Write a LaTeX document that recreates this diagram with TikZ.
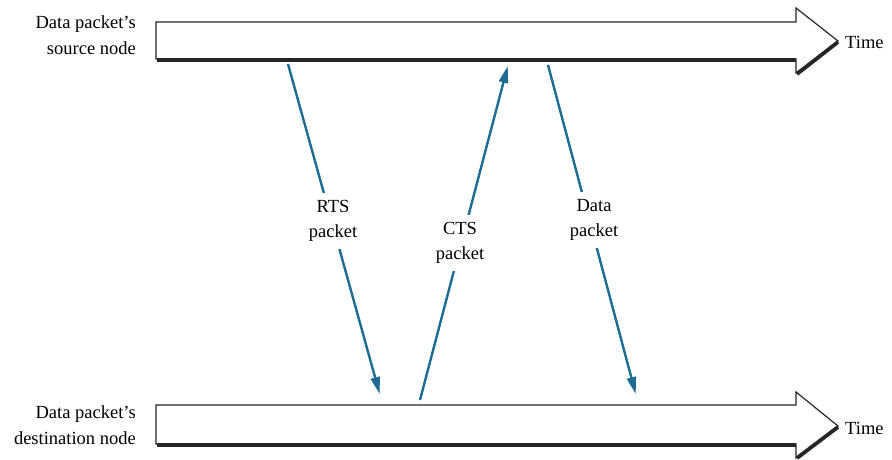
\documentclass[tikz,border=0pt]{standalone}
\usepackage{fontspec}
\setmainfont{Liberation Serif}
\usetikzlibrary{arrows.meta}
\definecolor{msgblue}{RGB}{28,108,148}
\tikzset{
  lbl/.style={font=\fontsize{18.5}{25.5}\selectfont, inner sep=0pt},
  pktlbl/.style={lbl, fill=white, align=center, inner xsep=3pt, inner ysep=7pt},
  msg/.style={draw=msgblue, line width=2.4pt,
    -{Triangle[length=17pt,width=9pt]}, shorten >=1pt},
  timebody/.style={draw=black!85, line width=1.2pt, fill=white, line join=miter},
  timeshadow/.style={draw=black!85, line width=3.8pt}
}
\begin{document}
\begin{tikzpicture}[x=1pt,y=-1pt]
\useasboundingbox (0,0) rectangle (892,459);

% source node time line
\draw[timebody] (156,22) -- (796,22) -- (796,8) -- (838,41) -- (796,73)
  -- (796,59) -- (156,59) -- cycle;
\draw[timeshadow] (157,60) -- (796,60);
\draw[timeshadow] (838,42) -- (797,74);

% destination node time line
\draw[timebody] (156,405) -- (796,405) -- (796,392) -- (838,426) -- (796,458)
  -- (796,444) -- (156,444) -- cycle;
\draw[timeshadow] (157,445) -- (796,445);
\draw[timeshadow] (838,427) -- (797,458);

% side labels
\node[lbl, anchor=east, align=right] (srcL) at (136,35) {Data packet's\\source node};
\node[lbl, anchor=east, align=right] (dstL) at (136,425) {Data packet's\\destination node};
\node[lbl, anchor=west] (timeT) at (845,42) {Time};
\node[lbl, anchor=west] (timeB) at (845,428) {Time};

% message end points
\coordinate (rtsS) at (288,64);
\coordinate (rtsE) at (380,395);
\coordinate (ctsS) at (420,400);
\coordinate (ctsE) at (508,65);
\coordinate (datS) at (548,65);
\coordinate (datE) at (636,395);

\draw[msg] (rtsS) -- (rtsE);
\draw[msg] (ctsS) -- (ctsE);
\draw[msg] (datS) -- (datE);

\node[pktlbl] (rtsL) at (333,221) {RTS\\packet};
\node[pktlbl] (ctsL) at (460,243) {CTS\\packet};
\node[pktlbl] (datL) at (594,220) {Data\\packet};
\end{tikzpicture}
\end{document}
